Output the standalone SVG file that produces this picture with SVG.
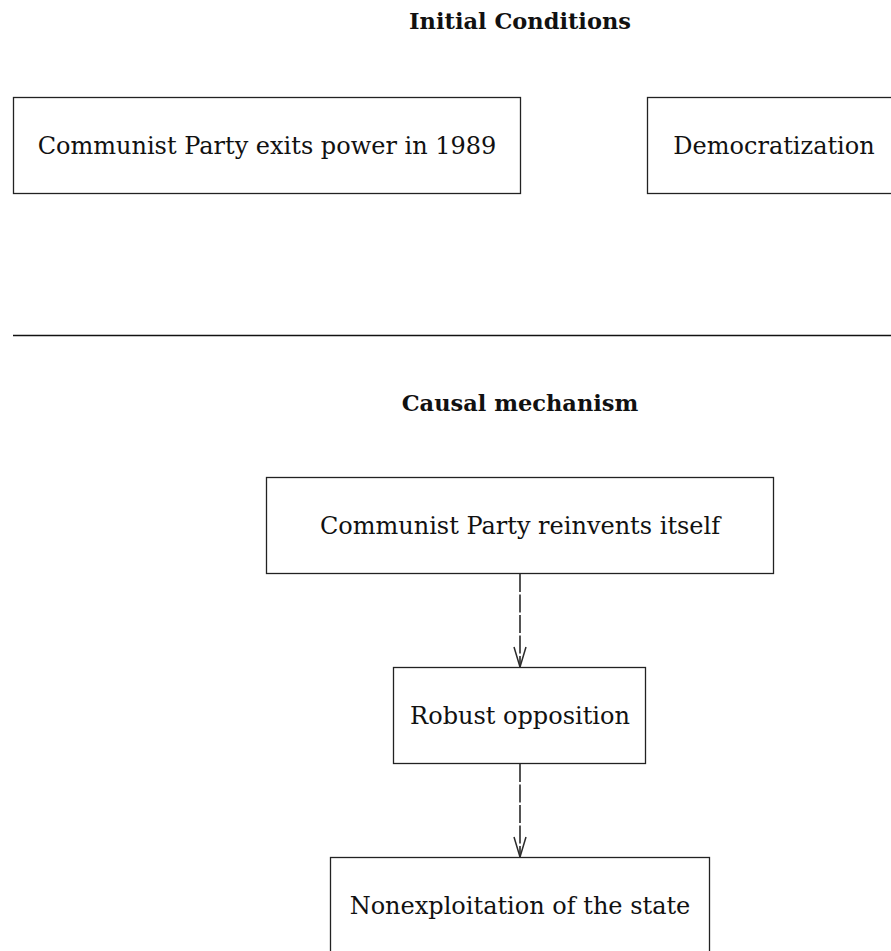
<svg xmlns="http://www.w3.org/2000/svg" width="891" height="951" viewBox="0 0 891 951">
  <style>
    .box { fill: #ffffff; stroke: #222222; stroke-width: 1.3; }
    .label { font-family: "DejaVu Serif", "Liberation Serif", serif; font-size: 24px; fill: #111111; text-anchor: middle; }
    .title { font-family: "DejaVu Serif", "Liberation Serif", serif; font-size: 22.5px; font-weight: bold; fill: #111111; text-anchor: middle; }
    .rule { stroke: #111111; stroke-width: 1.3; }
    .link { stroke: #2a2a2a; stroke-width: 1.6; stroke-dasharray: 18 2.5; fill: none; }
  </style>
  <defs>
    <!-- open "V" head pointing along the line direction -->
    <marker id="vee" markerWidth="22" markerHeight="14" refX="21" refY="7" orient="auto" markerUnits="userSpaceOnUse" viewBox="0 0 22 14">
      <path d="M1,1 L21,7 L1,13" fill="none" stroke="#2a2a2a" stroke-width="1.5"/>
    </marker>
  </defs>

  <rect width="891" height="951" fill="#ffffff"/>

  <!-- section headings -->
  <text class="title" x="520" y="29">Initial Conditions</text>
  <line class="rule" x1="13" y1="335.5" x2="891" y2="335.5"/>
  <text class="title" x="520" y="411">Causal mechanism</text>

  <!-- initial conditions -->
  <g id="exit1989">
    <rect class="box" x="13.5" y="97.5" width="507" height="96"/>
    <text class="label" x="267" y="154">Communist Party exits power in 1989</text>
  </g>
  <g id="democratization">
    <rect class="box" x="647.5" y="97.5" width="253" height="96"/>
    <text class="label" x="774" y="154">Democratization</text>
  </g>

  <!-- causal chain -->
  <g id="reinvents">
    <rect class="box" x="266.5" y="477.5" width="507" height="96"/>
    <text class="label" x="520" y="534">Communist Party reinvents itself</text>
  </g>
  <g id="opposition">
    <rect class="box" x="393.5" y="667.5" width="252" height="96"/>
    <text class="label" x="520" y="724">Robust opposition</text>
  </g>
  <g id="nonexploitation">
    <rect class="box" x="330.5" y="857.5" width="379" height="96"/>
    <text class="label" x="520" y="914">Nonexploitation of the state</text>
  </g>

  <g id="connectors">
    <line class="link" x1="520" y1="574" x2="520" y2="667" marker-end="url(#vee)"/>
    <line class="link" x1="520" y1="764" x2="520" y2="857" marker-end="url(#vee)"/>
  </g>
</svg>
